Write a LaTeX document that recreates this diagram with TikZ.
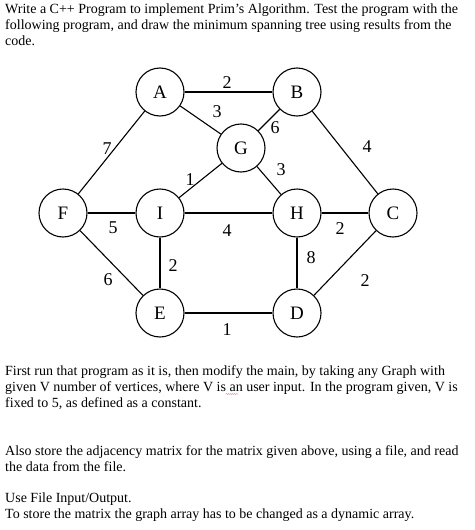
\documentclass[tikz,border=0pt]{standalone}
\usepackage{fontspec}
\setmainfont{Liberation Serif}
\usepackage{tikz}
\usetikzlibrary{decorations.pathmorphing}
\tikzset{vertex/.style={draw, circle, line width=1.1pt, minimum size=48pt, inner sep=0pt, font=\fontsize{19}{19}\selectfont}}
\tikzset{wt/.style={font=\fontsize{18}{18}\selectfont, inner sep=0pt}}
\tikzset{edge/.style={line width=1.1pt}}
\tikzset{body/.style={anchor=base west, inner sep=0pt, font=\fontsize{14}{16}\selectfont, align=left}}

\begin{document}
\begin{tikzpicture}[x=1pt, y=-1pt]
\useasboundingbox (0,0) rectangle (474,530);
% question text (placed by its last line)
\node[body] (top) at (5,45) {Write a C++ Program to implement Prim's Algorithm. Test the program with the\\
following program, and draw the minimum spanning tree using results from the\\
code.};
% vertices
\node[vertex] (A) at (160,92) {A};
\node[vertex] (B) at (297,92) {B};
\node[vertex] (G) at (241,148) {G};
\node[vertex] (F) at (63,213) {F};
\node[vertex] (I) at (160,213) {I};
\node[vertex] (H) at (297,213) {H};
\node[vertex] (C) at (393,213) {C};
\node[vertex] (E) at (160,313) {E};
\node[vertex] (D) at (297,313) {D};
% edges
\foreach \u/\v in {A/B,A/G,B/G,A/F,B/C,G/I,G/H,F/I,I/H,H/C,I/E,H/D,F/E,C/D,E/D}
    \draw[edge] (\u) -- (\v);
% weights
\node[wt] (wAB) at (227,83) {2};
\node[wt] (wAG) at (217,112) {3};
\node[wt] (wBG) at (275,128) {6};
\node[wt] (wAF) at (107,149) {7};
\node[wt] (wBC) at (367,147) {4};
\node[wt] (wGI) at (190,180) {1};
\node[wt] (wGH) at (281,170) {3};
\node[wt] (wFI) at (113,228) {5};
\node[wt] (wIH) at (227,231) {4};
\node[wt] (wHC) at (340,229) {2};
\node[wt] (wIE) at (173,266) {2};
\node[wt] (wHD) at (311,258) {8};
\node[wt] (wFE) at (108,280) {6};
\node[wt] (wCD) at (365,281) {2};
\node[wt] (wED) at (227,330) {1};
% task text
\node[body] (run) at (5,407) {First run that program as it is, then modify the main, by taking any Graph with\\
given V number of vertices, where V is an user input. In the program given, V is\\
fixed to 5, as defined as a constant.};
\node[body] (store) at (5,471) {Also store the adjacency matrix for the matrix given above, using a file, and read\\
the data from the file.};
\node[body] (io) at (5,518) {Use File Input/Output.\\
To store the matrix the graph array has to be changed as a dynamic array.};
\draw[red!55, line width=0.5pt, decorate, decoration={snake, amplitude=0.5pt, segment length=2pt}] (226,394) -- (238,394);
\end{tikzpicture}
\end{document}
